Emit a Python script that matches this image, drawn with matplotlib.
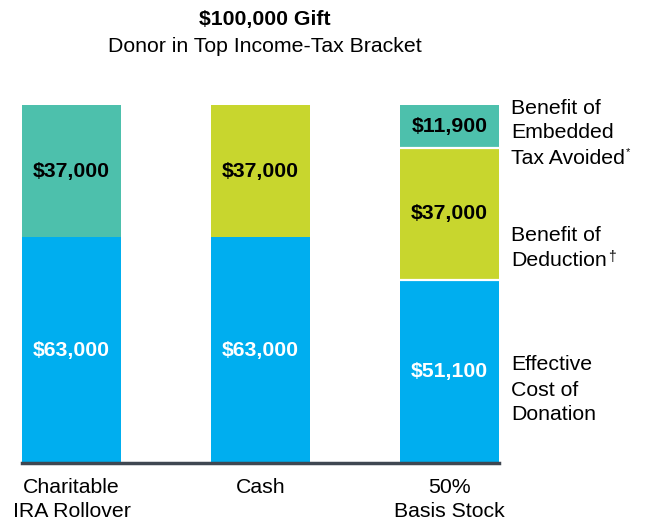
import matplotlib
matplotlib.use("Agg")
import matplotlib.pyplot as plt
import numpy as np

plt.rcParams['font.family'] = ['Liberation Sans', 'DejaVu Sans']
plt.rcParams['text.parse_math'] = False

categories = ["Charitable\nIRA Rollover", "Cash", "50%\nBasis Stock"]
cost = [63000, 63000, 51100]          # Effective cost of donation
deduction = [0, 37000, 37000]         # Benefit of deduction (yellow)
ira_benefit = [37000, 0, 0]           # IRA rollover benefit (teal)
embedded = [0, 0, 11900]              # Embedded tax avoided (teal)

CYAN = "#00AEEF"
TEAL = "#4DC0AC"
YELLOW = "#C8D62E"
FS = 15.3

W, H = 646, 520
fig = plt.figure(figsize=(W / 100, H / 100), dpi=100)
left_px, right_px = 22, 499
bottom_px, top_px = 463, 105
ax = fig.add_axes([left_px / W, 1 - bottom_px / H, (right_px - left_px) / W, (bottom_px - top_px) / H])

x = np.arange(len(categories))
bw = 0.525
cost = np.array(cost); deduction = np.array(deduction)
ira_benefit = np.array(ira_benefit); embedded = np.array(embedded)

ax.bar(x, cost, bw, color=CYAN, linewidth=0)
ax.bar(x, ira_benefit, bw, bottom=cost, color=TEAL, linewidth=0)
ax.bar(x, deduction, bw, bottom=cost + ira_benefit, color=YELLOW, linewidth=0)
ax.bar(x, embedded, bw, bottom=cost + ira_benefit + deduction, color=TEAL, linewidth=0)
# thin white separators on stacked segments of third bar
xi = 2
b = 0
for arr in (cost, ira_benefit, deduction, embedded):
    if arr[xi] > 0 and b > 0:
        ax.plot([xi - bw / 2, xi + bw / 2], [b, b], color='white', lw=1.6, solid_capstyle='butt')
    b += arr[xi]

def fmt(v):
    return "${:,.0f}".format(v)

for xi in x:
    ax.text(xi, cost[xi] / 2, fmt(cost[xi]), ha='center', va='center', color='white',
            fontsize=FS, fontweight='bold')
    b = cost[xi]
    for arr in (ira_benefit, deduction, embedded):
        if arr[xi] > 0:
            ax.text(xi, b + arr[xi] / 2, fmt(arr[xi]), ha='center', va='center', color='black',
                    fontsize=FS, fontweight='bold')
        b += arr[xi]

ax.set_xlim(-bw / 2, 2 + bw / 2)
ax.set_ylim(0, 100000)
for s in ('top', 'right', 'left'):
    ax.spines[s].set_visible(False)
ax.spines['bottom'].set_color('#3F4751')
ax.spines['bottom'].set_linewidth(2.5)
ax.set_yticks([])
ax.set_xticks(x)
ax.set_xticklabels(categories, fontsize=FS, linespacing=1.3)
ax.tick_params(axis='x', length=0, pad=11)

# titles
fig.text(265 / W, 1 - 20 / H, "$100,000 Gift", ha='center', va='center', fontsize=FS, fontweight='bold')
fig.text(265 / W, 1 - 46 / H, "Donor in Top Income-Tax Bracket", ha='center', va='center', fontsize=FS)

# right-side legend labels
lx = 511 / W
groups = [
    (["Benefit of", "Embedded", "Tax Avoided"], 108, "*"),
    (["Benefit of", "Deduction"], 236, "\u2020"),
    (["Effective", "Cost of", "Donation"], 365, None),
]
texts_sup = []
for lines, y0, sup in groups:
    for i, ln in enumerate(lines):
        t = fig.text(lx, 1 - (y0 + 25 * i) / H, ln, ha='left', va='center', fontsize=FS)
    if sup:
        texts_sup.append((t, sup))

fig.canvas.draw()
r = fig.canvas.get_renderer()
for t, sup in texts_sup:
    bb = t.get_window_extent(r)
    fs = 8 if sup == "*" else 10
    fig.text((bb.x1 + 1) / W, (bb.y1 + 1) / H, sup, ha='left', va='top', fontsize=fs)

fig.savefig("out.png", dpi=100)
